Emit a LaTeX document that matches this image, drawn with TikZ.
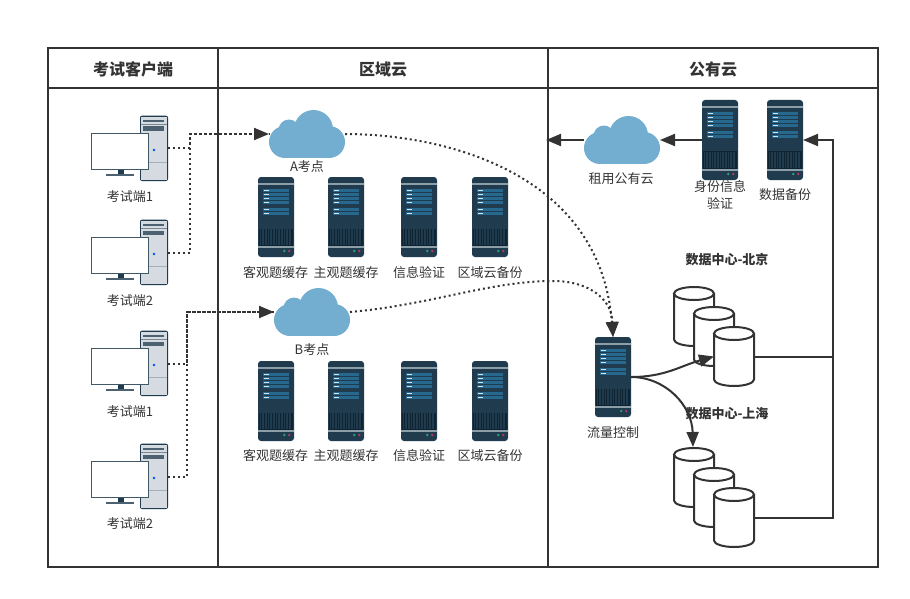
\documentclass[tikz,border=0pt]{standalone}
\usepackage{fontspec}
\setmainfont{Noto Sans CJK SC}
\usetikzlibrary{arrows.meta}
\definecolor{ink}{HTML}{333333}
\definecolor{srvbody}{HTML}{1F3B4D}
\definecolor{srvband}{HTML}{8C9EA8}
\definecolor{srvbar}{HTML}{27688F}
\definecolor{srvtick}{HTML}{D5E4EE}
\definecolor{srvgrid}{HTML}{0E2433}
\definecolor{cloudblue}{HTML}{73ADCF}
\definecolor{towergrey}{HTML}{D5DBE1}
\definecolor{ledgreen}{HTML}{2E9E78}
\definecolor{ledred}{HTML}{B03A5B}
\tikzset{
  x=1pt,y=-1pt,
  frameline/.style={draw=ink,line width=2pt},
  conn/.style={draw=ink,line width=2pt,-{Triangle[length=15pt,width=12pt]}},
  plainconn/.style={draw=ink,line width=2pt},
  dotconn/.style={draw=ink,line width=2pt,dash pattern=on 2pt off 3pt},
  dottip/.style={-{Triangle[length=15pt,width=12pt,sep=0pt]}},
  lbl/.style={text=ink,font=\fontsize{13}{15}\selectfont,inner sep=0pt},
  blbl/.style={text=ink,font=\fontsize{13}{15}\selectfont\bfseries,inner sep=0pt},
  hdr/.style={text=ink,font=\fontsize{16}{18}\selectfont\bfseries,inner sep=0pt},
  anchorbox/.style={anchor=north west,inner sep=0pt,outer sep=0pt,minimum width=#1},
  srv/.pic={
    \node[anchorbox=36pt,minimum height=80pt] (-b) at (0,0) {};
    \fill[srvbody,rounded corners=3pt] (0,0) rectangle (36,80);
    \fill[srvband] (0,6.4) rectangle (36,7.8);
    \foreach \yy/\hh in {11.7/3.4,15.7/3.2,20.0/3.4,24.0/3.2,30.7/3.4,34.7/3.2}{
      \fill[srvbar] (5.3,\yy) rectangle (31,\yy+\hh);
      \fill[srvtick] (5.8,\yy+1) rectangle (10.5,\yy+\hh-1);
    }
    \fill[srvgrid] (1,51.5) rectangle (35,68.5);
    \foreach \xx in {2,3.6,...,34}{\fill[srvbody] (\xx,52) rectangle (\xx+.55,68);}
    \fill[srvband] (0,69) rectangle (36,71);
    \fill[ledgreen] (26.3,74) circle (1.4);
    \fill[ledred] (31.3,74) circle (1.4);
  },
  workstation/.pic={
    \node[anchorbox=28pt,minimum height=65pt] (-t) at (49,0) {};
    \fill[srvbody,rounded corners=2pt] (49,-.3) rectangle (77,65);
    \fill[towergrey] (50,.8) rectangle (76,63.8);
    \fill[srvbody!80!white] (52.3,4) rectangle (73.3,5.6);
    \fill[srvbody!60!white] (50,8) rectangle (76,8.8);
    \fill[srvbody!80!white] (52.3,10.5) rectangle (73.3,14.8);
    \fill[srvbody!40!white] (50,46) rectangle (76,46.8);
    \fill[blue!70!cyan] (63,34) circle (1.4);
    \fill[srvbody] (26.5,53) rectangle (32.5,58.5);
    \fill[srvbody!80!white] (15,58) rectangle (43,59.6);
    \draw[srvbody!85!white,fill=white,line width=1.2pt] (0.6,17.5) rectangle (57.6,53.2);
  },
  cloudpic/.pic={
    \node[anchorbox=76pt,minimum height=48pt] (-c) at (0,0) {};
    \fill[cloudblue] (16,32) circle (16);
    \fill[cloudblue] (60,32) circle (16);
    \fill[cloudblue] (44.5,19.5) circle (19.5);
    \fill[cloudblue] (20,20) circle (10.5);
    \fill[cloudblue] (16,26) rectangle (60,48);
  },
  cylpic/.pic={
    \node[anchorbox=40pt,minimum height=59pt] (-c) at (0,0) {};
    \draw[ink,line width=2pt,fill=white] (0,6.5) -- (0,52.5) arc[start angle=180,end angle=360,x radius=20,y radius=-6.5] -- (40,6.5) arc[start angle=0,end angle=360,x radius=20,y radius=-6.5];
  },
}
\begin{document}
\begin{tikzpicture}
\useasboundingbox (0,0) rectangle (910,599);
% frame
\coordinate (f1) at (48,48); \coordinate (f2) at (878,567);
\coordinate (h1) at (48,88); \coordinate (h2) at (878,88);
\coordinate (v1a) at (218,48); \coordinate (v1b) at (218,567);
\coordinate (v2a) at (548,48); \coordinate (v2b) at (548,567);
\draw[frameline] (f1) rectangle (f2);
\draw[frameline] (h1) -- (h2);
\draw[frameline] (v1a) -- (v1b);
\draw[frameline] (v2a) -- (v2b);
\node[hdr] (h-client) at (133,69) {考试客户端};
\node[hdr] (h-region) at (383,69) {区域云};
\node[hdr] (h-public) at (713,69) {公有云};
% clients
\pic (p1) at (91,116) {workstation};
\pic (p2) at (91,220) {workstation};
\pic (p3) at (91,331) {workstation};
\pic (p4) at (91,444) {workstation};
\node[lbl] (l-p1) at (130,197) {考试端1};
\node[lbl] (l-p2) at (130,301) {考试端2};
\node[lbl] (l-p3) at (130,412) {考试端1};
\node[lbl] (l-p4) at (130,524) {考试端2};
% clouds
\pic (ca) at (269,110) {cloudpic};
\pic (cb) at (274,288) {cloudpic};
\pic (cr) at (584,116) {cloudpic};
\node[lbl] (l-ca) at (307,167) {A考点};
\node[lbl] (l-cb) at (312,350) {B考点};
\node[lbl] (l-cr) at (621,179) {租用公有云};
% region servers
\pic (s1) at (258,177) {srv};
\pic (s2) at (328,177) {srv};
\pic (s3) at (401,177) {srv};
\pic (s4) at (472,177) {srv};
\pic (t1) at (258,361) {srv};
\pic (t2) at (328,361) {srv};
\pic (t3) at (401,361) {srv};
\pic (t4) at (472,361) {srv};
\node[lbl] (l-s1) at (275.5,273) {客观题缓存};
\node[lbl] (l-s2) at (346,273) {主观题缓存};
\node[lbl] (l-s3) at (419,273) {信息验证};
\node[lbl] (l-s4) at (490,273) {区域云备份};
\node[lbl] (l-t1) at (275.5,456) {客观题缓存};
\node[lbl] (l-t2) at (346,456) {主观题缓存};
\node[lbl] (l-t3) at (419,456) {信息验证};
\node[lbl] (l-t4) at (490,456) {区域云备份};
% public servers
\pic (id) at (702,100) {srv};
\pic (bk) at (767,100) {srv};
\pic (fl) at (595,337) {srv};
\node[lbl] (l-id1) at (720,187) {身份信息};
\node[lbl] (l-id2) at (720,203) {验证};
\node[lbl] (l-bk) at (785,195) {数据备份};
\node[lbl] (l-fl) at (613,433) {流量控制};
% cylinders
\pic (b1) at (674,287) {cylpic};
\pic (b2) at (694,307) {cylpic};
\pic (b3) at (714,327) {cylpic};
\pic (c1) at (674,448) {cylpic};
\pic (c2) at (694,468) {cylpic};
\pic (c3) at (714,488) {cylpic};
% connectors
\coordinate (rise) at (833,140);
\coordinate (pub) at (546,140);
\coordinate (shin) at (693,447);
\draw[plainconn] (b3-c.east) -| (rise);
\draw[conn] (c3-c.east) -| (rise) -- (bk-b.east);
\draw[conn] (id-b.west) -- (cr-c.east |- id-b.west);
\draw[conn] (cr-c.west |- id-b.west) -- (pub);
\draw[conn] (fl-b.east) .. controls (665,377) and (680,366) .. (b3-c.west);
\draw[conn] (fl-b.east) .. controls (665,377) and (692,405) .. (shin);
% dotted
\draw[dotconn] (p1-t.east) -- ++(22,0) |- (ca-c.west);
\draw[dotconn,dottip] (p2-t.east) -- ++(22,0) |- (ca-c.west);
\draw[dotconn] (p3-t.east) -- ++(19,0) |- (cb-c.west);
\draw[dotconn,dottip] (p4-t.east) -- ++(19,0) |- (cb-c.west);
\draw[dotconn,dottip] (ca-c.east) .. controls (440,134) and (600,170) .. (fl-b.north);
\draw[dotconn,dottip] (cb-c.east) .. controls (430,305) and (490,281) .. (553,281) .. controls (590,281) and (612,300) .. (fl-b.north);
\node[blbl] (l-bj) at (727,260) {数据中心-北京};
\node[blbl] (l-sh) at (727,414) {数据中心-上海};
\end{tikzpicture}
\end{document}
